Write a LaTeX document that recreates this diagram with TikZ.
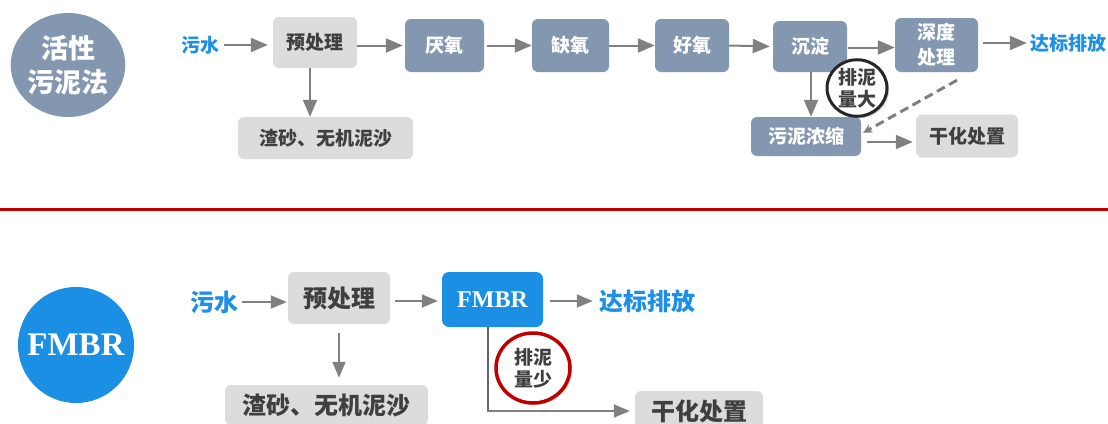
\documentclass[tikz,border=0pt]{standalone}
\usepackage{fontspec}
\setmainfont{Noto Sans CJK SC}
\newfontfamily\cjk{Noto Sans CJK SC}
\newfontfamily\fmfont{Liberation Serif}
\usetikzlibrary{shapes.geometric,arrows.meta,shadows}
\definecolor{slate}{HTML}{8497B0}
\definecolor{lgray}{HTML}{DCDCDC}
\definecolor{tgray}{HTML}{3F3F3F}
\definecolor{agray}{HTML}{808080}
\definecolor{bblue}{HTML}{1B8FE3}
\definecolor{tblue}{HTML}{1E8FE6}
\definecolor{dred}{HTML}{C00000}
\newcommand{\fsz}[2]{\fontsize{#1pt}{#2pt}\selectfont}
\tikzset{
  slatebox/.style={fill=slate, rounded corners=6pt, text=white, inner sep=0pt,
    font=\cjk\bfseries\fsz{19}{25}, align=center},
  graybox/.style={fill=lgray, rounded corners=6pt, text=tgray, inner sep=0pt,
    font=\cjk\bfseries\fsz{19}{25}, align=center},
  graybig/.style={graybox, font=\cjk\bfseries\fsz{24}{28}},
  bluetxt/.style={text=tblue, inner sep=0pt, font=\cjk\bfseries\fsz{19}{22}},
  bluebig/.style={bluetxt, font=\cjk\bfseries\fsz{24}{28}},
  arr/.style={draw=agray, line width=2pt, -{Triangle[length=17pt,width=14pt]}},
  arrb/.style={draw=agray, line width=1.6pt, -{Triangle[length=16pt,width=13pt]}},
  tag/.style={ellipse, fill=white, inner sep=0pt, text=tgray, align=center,
    font=\cjk\bfseries\fsz{19}{22},
    drop shadow={opacity=0.35, shadow xshift=2pt, shadow yshift=-2pt}},
}
\begin{document}
\begin{tikzpicture}[x=1pt,y=-1pt]
\useasboundingbox (0,0) rectangle (1108,423);
\fill[white] (0,0) rectangle (1108,423);

% ---------------- top: activated sludge ----------------
\node[ellipse, fill=slate, minimum width=113pt, minimum height=104pt, inner sep=0pt,
  text=white, align=center, font=\cjk\bfseries\fsz{27}{34}] (c1) at (68,65) {活性\\污泥法};

\node[bluetxt] (wu1) at (200,45) {污水};
\node[graybox, minimum width=84pt, minimum height=51pt] (pre1) at (315,42.5) {预处理};
\node[graybox, minimum width=175pt, minimum height=42pt] (sand1) at (325.5,138) {渣砂、无机泥沙};
\node[slatebox, minimum width=79pt, minimum height=53pt] (yan) at (444.5,45.5) {厌氧};
\node[slatebox, minimum width=77pt, minimum height=53pt] (que) at (570.5,45.5) {缺氧};
\node[slatebox, minimum width=74pt, minimum height=53pt] (hao) at (692,45.5) {好氧};
\node[slatebox, minimum width=74pt, minimum height=51pt] (chen) at (810,46.5) {沉淀};
\node[slatebox, minimum width=83pt, minimum height=54pt] (shen) at (936.5,45) {深度\\处理};
\node[bluetxt] (da1) at (1068,43) {达标排放};
\node[slatebox, minimum width=110pt, minimum height=39pt] (nong) at (806,136.5) {污泥浓缩};
\node[graybox, minimum width=102pt, minimum height=43pt] (gan1) at (967,136) {干化处置};

\draw[arr, shorten <=5pt, shorten >=5pt] (wu1.east) -- (wu1.east -| pre1.west);
\draw[arr, shorten >=2pt] (pre1.east |- yan.west) -- (yan.west);
\draw[arr, shorten <=3pt] (yan.east) -- (que.west);
\draw[arr] (que.east) -- (hao.west);
\draw[arr, shorten >=3pt] (hao.east) -- (chen.west);
\draw[arr, shorten <=1pt] ([yshift=-1pt]chen.east) -- ([yshift=-1pt]chen.east -| shen.west);
\draw[arr, shorten <=5pt, shorten >=3pt] (shen.east |- da1.west) -- (da1.west);
\draw[arr] ([xshift=-5pt]pre1.south) -- ([xshift=-5pt]pre1.south |- sand1.north);
\draw[arr] ([xshift=1pt]chen.south) -- ([xshift=1pt]chen.south |- nong.north);
\draw[arr, shorten <=6pt, shorten >=3pt] ([yshift=-5.5pt]nong.east) -- ([yshift=-5.5pt]nong.east -| gan1.west);
\coordinate (dstart) at ([xshift=20.5pt,yshift=-8pt]shen.south);
\coordinate (dend) at ([xshift=2pt,yshift=-16pt]nong.north east);
\draw[draw=agray, line width=3pt, dash pattern=on 9pt off 5pt,
  -{Stealth[length=9pt,width=9pt]}] (dstart) -- (dend);

\node[tag, draw=black!85, line width=3pt, minimum width=60pt, minimum height=56pt] (big) at (857,88) {排泥\\量大};

% separator
\coordinate (sepL) at (0,209);
\coordinate (sepR) at (1108,209);
\draw[dred, line width=3pt] (sepL) -- (sepR);

% ---------------- bottom: FMBR ----------------
\node[circle, fill=bblue, minimum size=116pt, inner sep=0pt, text=white,
  font=\fmfont\bfseries\fsz{33}{36}] (c2) at (76,345) {FMBR};

\node[bluebig] (wu2) at (214,302) {污水};
\node[graybig, minimum width=102pt, minimum height=52pt] (pre2) at (339,298) {预处理};
\node[fill=bblue, rounded corners=7pt, minimum width=101pt, minimum height=55pt, inner sep=0pt,
  text=white, font=\fmfont\bfseries\fsz{24}{28}] (fm) at (492.5,299.5) {FMBR};
\node[bluebig] (da2) at (647,301) {达标排放};
\node[graybig, minimum width=203pt, minimum height=40pt] (sand2) at (326.5,405) {渣砂、无机泥沙};
\node[graybig, minimum width=128pt, minimum height=40pt] (gan2) at (699,411) {干化处置};

\draw[arrb, shorten <=4pt, shorten >=1pt] (wu2.east) -- (wu2.east -| pre2.west);
\draw[arrb, shorten <=5pt, shorten >=4pt] (pre2.east |- da2.west) -- (fm.west |- da2.west);
\draw[arrb, shorten <=7pt, shorten >=6pt] (fm.east |- da2.west) -- (da2.west);
\draw[arrb, shorten <=9pt, shorten >=7pt] (pre2.south) -- (pre2.south |- sand2.north);
\draw[draw=black!60, line width=1.6pt] ([xshift=-4.5pt]fm.south) -- ([xshift=-4.5pt]fm.south |- gan2.west);
\draw[arrb, shorten >=5pt] ([xshift=-5.3pt]fm.south |- gan2.west) -- (gan2.west);

\node[tag, draw=dred, line width=3.5pt, minimum width=74pt, minimum height=70pt] (small) at (533,368) {排泥\\量少};
\end{tikzpicture}
\end{document}
